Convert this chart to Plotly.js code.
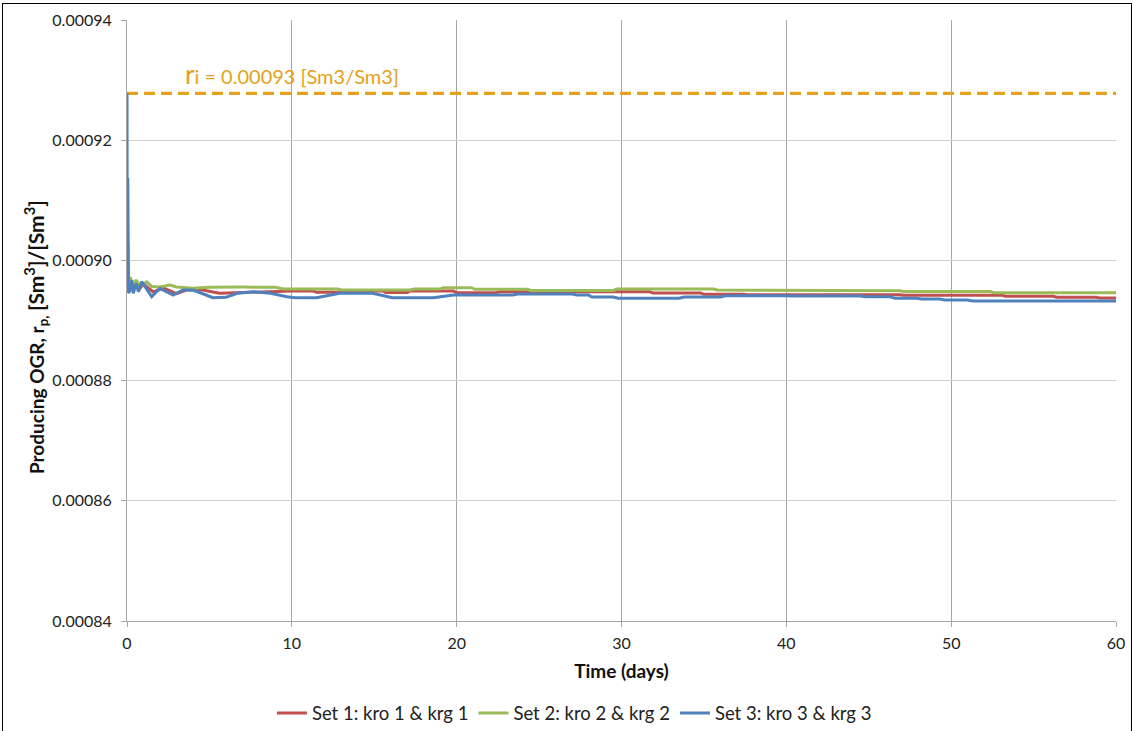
<!DOCTYPE html>
<html>
<head>
<meta charset="utf-8">
<script src="https://cdn.plot.ly/plotly-3.0.1.min.js"></script>
<style>
  html, body { margin: 0; padding: 0; background: #fff; }
  #chart { width: 1133px; height: 731px; }
  #frame { position: absolute; left: 2px; top: 3px; width: 1128px; height: 800px;
           border: 1px solid #000; pointer-events: none; }
</style>
</head>
<body>
<div id="chart"></div>
<div id="frame"></div>
<script>
// Producing oil-gas ratio for three relative-permeability sets
const set1Days = [0, 0.04, 0.1, 0.2, 0.35, 0.55, 0.75, 1.0, 1.6, 2.2, 3.0, 3.6, 4.6, 5.6, 6.6, 8.0, 10.0, 11.3, 11.5, 14.1, 14.3, 15.5, 15.7, 17.0, 17.2, 19.8, 20.0, 22.4, 22.6, 31.7, 31.9, 34.8, 35.0, 37.4, 37.6, 46.9, 47.1, 53.1, 53.3, 56.2, 56.4, 58.8, 59.0, 60];
const set1OGR = [0.00089557, 0.00089950, 0.00089458, 0.00089657, 0.00089491, 0.00089624, 0.00089524, 0.00089607, 0.00089474, 0.00089541, 0.00089449, 0.00089507, 0.00089507, 0.00089453, 0.00089462, 0.00089479, 0.00089491, 0.00089491, 0.00089469, 0.00089469, 0.00089491, 0.00089491, 0.00089466, 0.00089466, 0.00089491, 0.00089491, 0.00089462, 0.00089462, 0.00089479, 0.00089479, 0.00089458, 0.00089458, 0.00089436, 0.00089436, 0.00089428, 0.00089428, 0.00089419, 0.00089419, 0.00089404, 0.00089404, 0.00089386, 0.00089386, 0.00089374, 0.00089374];

const set2Days = [0, 0.05, 0.1, 0.2, 0.35, 0.55, 0.8, 1.2, 1.5, 2.0, 2.6, 3.0, 4.0, 5.0, 7.0, 9.0, 9.5, 12.8, 13.0, 17.2, 17.4, 19.0, 19.2, 20.9, 21.1, 24.3, 24.5, 29.5, 29.7, 35.6, 35.8, 40.8, 41.0, 46.9, 47.1, 52.4, 52.6, 60];
const set2OGR = [0.00089557, 0.00090290, 0.00089574, 0.00089724, 0.00089557, 0.00089674, 0.00089574, 0.00089641, 0.00089566, 0.00089557, 0.00089591, 0.00089557, 0.00089536, 0.00089552, 0.00089557, 0.00089552, 0.00089524, 0.00089524, 0.00089507, 0.00089507, 0.00089524, 0.00089524, 0.00089546, 0.00089546, 0.00089519, 0.00089519, 0.00089499, 0.00089499, 0.00089524, 0.00089524, 0.00089507, 0.00089507, 0.00089496, 0.00089496, 0.00089482, 0.00089482, 0.00089461, 0.00089461];

const set3Days = [0, 0.02, 0.05, 0.09, 0.14, 0.29, 0.38, 0.55, 0.69, 0.89, 1.2, 1.5, 2.0, 2.8, 3.4, 4.0, 4.8, 5.2, 6.0, 6.7, 7.7, 8.7, 9.7, 10.2, 11.5, 12.9, 14.9, 16.1, 18.6, 19.8, 23.4, 23.7, 27.0, 27.3, 28.0, 28.2, 29.5, 29.8, 33.5, 33.8, 36.0, 36.3, 40.0, 40.3, 44.5, 44.8, 46.3, 46.6, 47.9, 48.2, 49.3, 49.6, 51.0, 51.3, 60];
const set3OGR = [0.00092780, 0.00089474, 0.00091370, 0.00089458, 0.00089479, 0.00089674, 0.00089453, 0.00089619, 0.00089479, 0.00089646, 0.00089507, 0.00089396, 0.00089536, 0.00089424, 0.00089507, 0.00089507, 0.00089424, 0.00089379, 0.00089386, 0.00089453, 0.00089479, 0.00089453, 0.00089396, 0.00089379, 0.00089379, 0.00089453, 0.00089453, 0.00089379, 0.00089379, 0.00089424, 0.00089424, 0.00089441, 0.00089441, 0.00089424, 0.00089424, 0.00089391, 0.00089391, 0.00089369, 0.00089369, 0.00089391, 0.00089391, 0.00089413, 0.00089413, 0.00089408, 0.00089408, 0.00089396, 0.00089396, 0.00089369, 0.00089369, 0.00089358, 0.00089358, 0.00089341, 0.00089341, 0.00089324, 0.00089324];

// Initial solution oil-gas ratio
const riDays = [0, 60];
const riValue = 0.0009278;
const riLabel = '<span style="font-size:26px">r</span>i = 0.00093 [Sm3/Sm3]';

const seriesNames = ['Set 1: kro 1 &amp; krg 1', 'Set 2: kro 2 &amp; krg 2', 'Set 3: kro 3 &amp; krg 3'];
const seriesColors = ['#C0504D', '#9BBB59', '#4F81BD'];
const yTitle = '<b>Producing OGR, r<sub>p,</sub> <span style="font-size:21px">[Sm<sup>3</sup>]/[Sm<sup>3</sup>]</span></b>';

const baseFont = 'Lato, "Open Sans", sans-serif';

const traces = [
  { x: riDays, y: riDays.map(() => riValue), mode: 'lines', showlegend: false, hoverinfo: 'skip',
    line: { color: '#E3A21A', width: 3.2, dash: '11px,6px' } },
  { x: set1Days, y: set1OGR, name: seriesNames[0], mode: 'lines', line: { color: seriesColors[0], width: 3 } },
  { x: set2Days, y: set2OGR, name: seriesNames[1], mode: 'lines', line: { color: seriesColors[1], width: 3 } },
  { x: set3Days, y: set3OGR, name: seriesNames[2], mode: 'lines', line: { color: seriesColors[2], width: 3 } }
];

const layout = {
  width: 1133, height: 731,
  margin: { l: 127, r: 17, t: 20, b: 110, autoexpand: false },
  paper_bgcolor: '#fff', plot_bgcolor: '#fff',
  font: { family: baseFont, size: 16, color: '#222' },
  showlegend: true,
  legend: { orientation: 'h', x: 0.507, xanchor: 'center', xref: 'container',
            y: 0.024, yanchor: 'middle', yref: 'container',
            font: { family: baseFont, size: 18.5, color: '#222' }, itemwidth: 30, tracegroupgap: 0 },
  xaxis: {
    range: [0, 60], dtick: 10, tick0: 0, automargin: false,
    showgrid: true, gridcolor: '#A6A6A6', gridwidth: 1,
    zeroline: false, showline: true, linecolor: '#A6A6A6', linewidth: 1,
    ticks: 'outside', ticklen: 5, tickcolor: '#A6A6A6', ticklabelstandoff: 3,
    tickfont: { family: baseFont, size: 16, color: '#222' },
    title: { text: '<b>Time (days)</b>', font: { family: baseFont, size: 19, color: '#111' }, standoff: 13 }
  },
  yaxis: {
    range: [0.00084, 0.00094], dtick: 0.00002, tick0: 0.00084, tickformat: '.5f', automargin: false,
    showgrid: true, gridcolor: '#D0D0D0', gridwidth: 1,
    zeroline: false, showline: true, linecolor: '#A6A6A6', linewidth: 1,
    ticks: 'outside', ticklen: 5, tickcolor: '#A6A6A6', ticklabelstandoff: 6,
    tickfont: { family: baseFont, size: 16, color: '#222' }
  },
  annotations: [
    { x: 3.4, y: riValue, xref: 'x', yref: 'y', xanchor: 'left', yanchor: 'bottom',
      yshift: 1, showarrow: false, text: riLabel,
      font: { family: baseFont, size: 20, color: '#E3A21A' } },
    // vertical axis title, centred slightly below the plot middle
    { x: -0.093, y: 0.4725, xref: 'paper', yref: 'paper', xanchor: 'center', yanchor: 'middle',
      textangle: -90, showarrow: false, text: yTitle,
      font: { family: baseFont, size: 19, color: '#111' } }
  ]
};

Plotly.newPlot('chart', traces, layout, { displayModeBar: false, staticPlot: true });
</script>
</body>
</html>
